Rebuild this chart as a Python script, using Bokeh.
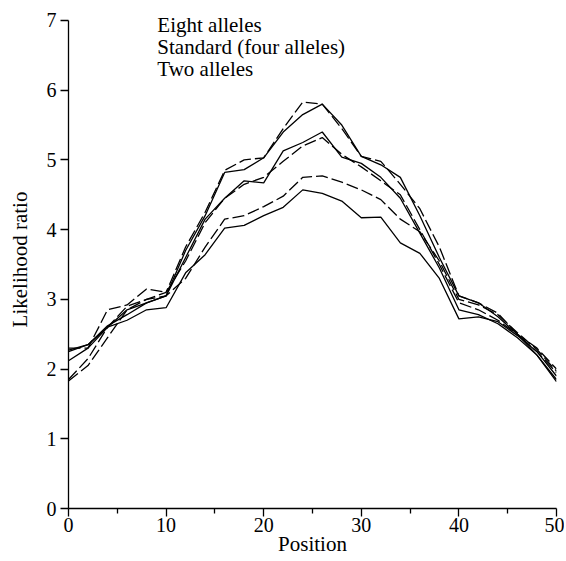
from bokeh.plotting import figure
from bokeh.models import Label, FixedTicker
from bokeh.embed import file_html
from bokeh.resources import INLINE

positions = list(range(0, 51, 2))

top_solid = [2.27, 2.35, 2.62, 2.78, 2.95, 3.05, 3.70, 4.20, 4.82, 4.86, 5.03, 5.40, 5.65,
             5.80, 5.50, 5.05, 4.93, 4.75, 4.20, 3.60, 3.05, 2.95, 2.75, 2.50, 2.20, 1.85]
top_dashed = [1.85, 2.15, 2.60, 2.90, 3.00, 3.10, 3.75, 4.25, 4.85, 5.00, 5.03, 5.45, 5.83,
              5.80, 5.45, 5.05, 4.98, 4.65, 4.30, 3.75, 3.05, 2.95, 2.80, 2.50, 2.25, 1.95]
mid_solid = [2.25, 2.35, 2.60, 2.85, 2.95, 3.05, 3.60, 4.15, 4.45, 4.70, 4.67, 5.13, 5.25,
             5.40, 5.04, 4.95, 4.75, 4.45, 3.95, 3.45, 2.85, 2.78, 2.65, 2.45, 2.20, 1.82]
mid_dashed = [2.30, 2.30, 2.85, 2.92, 3.15, 3.10, 3.55, 4.10, 4.45, 4.65, 4.75, 4.98, 5.20,
              5.32, 5.08, 4.90, 4.70, 4.50, 4.00, 3.50, 2.95, 2.85, 2.70, 2.50, 2.30, 2.00]
low_solid = [2.12, 2.30, 2.60, 2.70, 2.85, 2.88, 3.38, 3.64, 4.02, 4.06, 4.20, 4.32, 4.57,
             4.52, 4.41, 4.17, 4.18, 3.81, 3.66, 3.30, 2.72, 2.75, 2.68, 2.48, 2.25, 1.90]
low_dashed = [1.83, 2.05, 2.45, 2.85, 3.00, 3.05, 3.30, 3.75, 4.15, 4.20, 4.33, 4.48, 4.75,
              4.77, 4.68, 4.57, 4.43, 4.15, 3.97, 3.55, 3.00, 2.92, 2.78, 2.52, 2.28, 1.97]

legend_labels = ["Eight alleles", "Standard (four alleles)", "Two alleles"]
legend_x = 9.1
legend_y = [6.93, 6.615, 6.30]

x_ticks = [0, 10, 20, 30, 40, 50]
y_ticks = [0, 1, 2, 3, 4, 5, 6, 7]

FONT = "Liberation Serif"

p = figure(frame_width=488, frame_height=498, x_range=(0, 50), y_range=(0, 7.143),
           output_backend="svg", toolbar_location=None,
           min_border_left=68, min_border_right=8, min_border_top=10, min_border_bottom=46)
p.outline_line_color = None
p.xgrid.grid_line_color = None
p.ygrid.grid_line_color = None
p.background_fill_color = "white"
p.border_fill_color = "white"

for series, dash in [(top_solid, "solid"), (top_dashed, "12 4"),
                     (mid_solid, "solid"), (mid_dashed, "12 4"),
                     (low_solid, "solid"), (low_dashed, "12 4")]:
    p.line(positions, series, line_color="black", line_width=1.3, line_dash=dash)

for ax in (p.xaxis[0], p.yaxis[0]):
    ax.axis_line_color = "black"
    ax.axis_line_width = 1.3
    ax.major_tick_line_color = "black"
    ax.major_tick_line_width = 1.3
    ax.major_tick_out = 8
    ax.major_tick_in = 0
    ax.major_label_text_font = FONT
    ax.major_label_text_font_size = "20px"
    ax.major_label_text_color = "black"
    ax.axis_label_text_font = FONT
    ax.axis_label_text_font_size = "21px"
    ax.axis_label_text_font_style = "normal"
    ax.axis_label_text_color = "black"

p.xaxis.ticker = FixedTicker(ticks=x_ticks, minor_ticks=[5, 15, 25, 35, 45])
p.xaxis.minor_tick_line_color = "black"
p.xaxis.minor_tick_line_width = 1.3
p.xaxis.minor_tick_out = 5
p.xaxis.minor_tick_in = 0
p.xaxis.axis_label = "Position"
p.xaxis.axis_label_standoff = -3
p.xaxis.major_label_standoff = 1

p.yaxis.ticker = FixedTicker(ticks=y_ticks, minor_ticks=[])
p.yaxis.bounds = (0, 7)
p.yaxis.minor_tick_line_color = None
p.yaxis.axis_label = "Likelihood ratio"
p.yaxis.axis_label_standoff = 12
p.yaxis.major_label_standoff = 4
p.yaxis.major_label_orientation = "horizontal"

for lab, ly in zip(legend_labels, legend_y):
    p.add_layout(Label(x=legend_x, y=ly, text=lab, text_font=FONT, text_font_size="21px",
                       text_baseline="middle", text_color="black"))

open("out.html", "w").write(file_html(p, INLINE))
